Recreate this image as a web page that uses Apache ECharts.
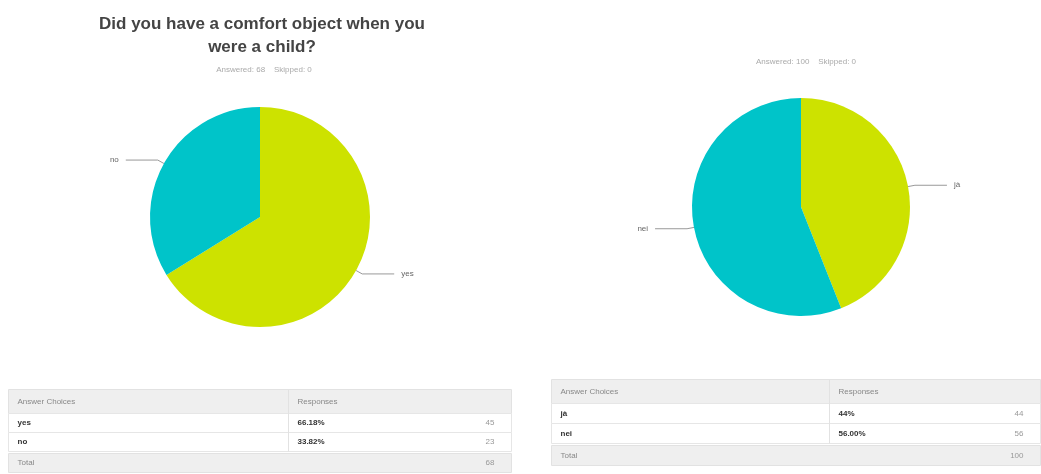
<!DOCTYPE html>
<html>
<head>
<meta charset="utf-8">
<script src="https://cdn.jsdelivr.net/npm/echarts@6/dist/echarts.min.js"></script>
<style>html,body{margin:0;padding:0;background:#fff;}#c{width:1041px;height:474px;}</style>
</head>
<body>
<div id="c"></div>
<script>
// ---- data ----
const titleA = 'Did you have a comfort object when you\nwere a child?';
const subA = 'Answered: 68    Skipped: 0';
const subB = 'Answered: 100    Skipped: 0';
const choicesA = ['yes', 'no'];
const countsA = [45, 23];
const percentsA = ['66.18%', '33.82%'];
const totalA = 68;
const choicesB = ['jà', 'nei'];
const countsB = [44, 56];
const percentsB = ['44%', '56.00%'];
const totalB = 100;
const headers = ['Answer Choices', 'Responses'];
const totalLabel = 'Total';
const colorsA = ['#cde200', '#00c4c9'];
const colorsB = ['#cde200', '#00c4c9'];

const FONT = '"Liberation Sans", Arial, sans-serif';
const chart = echarts.init(document.getElementById('c'), null, {renderer: 'canvas'});

function pieSeries(names, counts, colors, center, radius) {
  return {
    type: 'pie',
    center: center,
    radius: radius,
    startAngle: 90,
    clockwise: true,
    silent: true,
    animation: false,
    data: names.map((n, i) => ({name: n, value: counts[i], itemStyle: {color: colors[i]}})),
    label: {show: true, position: 'outside', color: '#666', fontSize: 8, fontFamily: FONT, distanceToLabelLine: 7},
    labelLine: {show: true, length: 7, length2: 32, lineStyle: {color: '#999', width: 1}},
    emphasis: {disabled: true}
  };
}

function table(x, y, w, divX, rowHs, names, percents, counts, total) {
  const els = [];
  let cy = y;
  const textStyle = (t, tx, ty, opts) => Object.assign({type: 'text', x: tx, y: ty,
    style: Object.assign({text: t, fontSize: 8, fontFamily: FONT, fill: '#888', verticalAlign: 'middle'}, opts || {})});
  // header
  els.push({type: 'rect', shape: {x: x, y: cy, width: w, height: rowHs[0]}, style: {fill: '#efefef', stroke: '#e2e2e2', lineWidth: 1}});
  els.push(textStyle(headers[0], x + 9, cy + rowHs[0] / 2));
  els.push(textStyle(headers[1], divX + 9, cy + rowHs[0] / 2));
  cy += rowHs[0];
  names.forEach((n, i) => {
    const h = rowHs[i + 1];
    els.push({type: 'rect', shape: {x: x, y: cy, width: w, height: h}, style: {fill: '#fff', stroke: '#e6e6e6', lineWidth: 1}});
    els.push(textStyle(n, x + 9, cy + h / 2, {fill: '#333', fontWeight: 'bold'}));
    els.push(textStyle(percents[i], divX + 9, cy + h / 2, {fill: '#333', fontWeight: 'bold'}));
    els.push(textStyle(String(counts[i]), x + w - 17, cy + h / 2, {fill: '#999', align: 'right'}));
    cy += h;
  });
  els.push({type: 'line', shape: {x1: divX, y1: y, x2: divX, y2: cy}, style: {stroke: '#e2e2e2', lineWidth: 1}});
  const th = rowHs[rowHs.length - 1];
  els.push({type: 'rect', shape: {x: x, y: cy + 2, width: w, height: th}, style: {fill: '#efefef', stroke: '#e2e2e2', lineWidth: 1}});
  els.push(textStyle(totalLabel, x + 9, cy + 2 + th / 2));
  els.push(textStyle(String(total), x + w - 17, cy + 2 + th / 2, {fill: '#999', align: 'right'}));
  return els;
}

const option = {
  backgroundColor: '#fff',
  animation: false,
  title: [
    {text: titleA, left: 257, top: 8, textAlign: 'center',
     textStyle: {fontSize: 17, fontWeight: 'bold', color: '#444', fontFamily: FONT, lineHeight: 23}},
    {text: subA, left: 259, top: 61, textAlign: 'center',
     textStyle: {fontSize: 8, fontWeight: 'normal', color: '#aaa', fontFamily: FONT}},
    {text: subB, left: 801, top: 53, textAlign: 'center',
     textStyle: {fontSize: 8, fontWeight: 'normal', color: '#aaa', fontFamily: FONT}}
  ],
  series: [
    pieSeries(choicesA, countsA, colorsA, [260, 217], 110),
    pieSeries(choicesB, countsB, colorsB, [801, 207], 109)
  ],
  graphic: [].concat(
    table(8.5, 389.5, 503, 288.5, [24, 19, 19, 19], choicesA, percentsA, countsA, totalA),
    table(551.5, 379.5, 489, 829.5, [24, 20, 20, 20], choicesB, percentsB, countsB, totalB)
  )
};
chart.setOption(option);
</script>
</body>
</html>
